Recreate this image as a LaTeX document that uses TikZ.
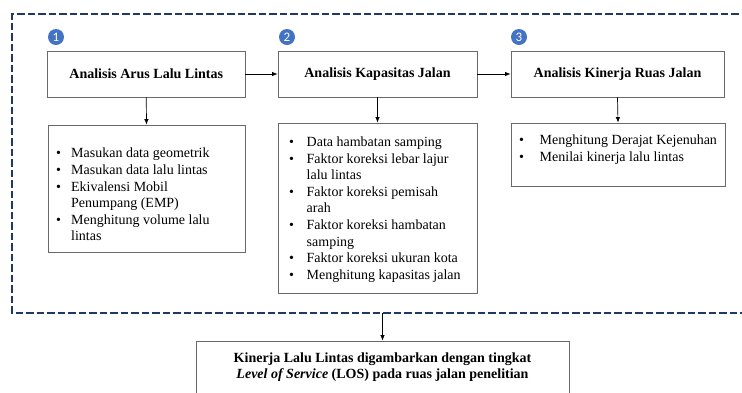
\documentclass[tikz,border=0pt]{standalone}
\usepackage{fontspec}
\setmainfont{Liberation Serif}
\newfontfamily\numfont{Carlito}
\usetikzlibrary{arrows.meta}
\definecolor{framec}{RGB}{31,56,100}
\definecolor{circc}{RGB}{68,114,196}
\definecolor{boxc}{RGB}{105,105,105}
\newcommand{\bu}[1][15pt]{\makebox[#1][l]{\textbullet}}
\newcommand{\ct}[1][15pt]{\hspace*{#1}}
\tikzset{
  box/.style={draw=boxc, line width=0.9pt, rectangle, inner sep=0pt},
  headtxt/.style={font=\fontsize{14pt}{16.5pt}\selectfont\bfseries},
  listtxt/.style={font=\fontsize{14pt}{16.6pt}\selectfont, align=left, inner sep=0pt, anchor=north west},
  numc/.style={circle, fill=circc, text=white, minimum size=16pt, inner sep=0pt, font=\numfont\fontsize{13pt}{13pt}\selectfont},
  arr/.style={-{Latex[length=5.5pt,width=4.5pt]}, line width=0.7pt, black},
  framel/.style={draw=framec, line width=2.4pt, dash pattern=on 7.5pt off 3pt}
}
\begin{document}
\begin{tikzpicture}[x=1pt,y=-1pt]
\useasboundingbox (0,0) rectangle (742,392);
\clip (0,0) rectangle (742,392);
% dashed frame
\draw[framel] (770,14) -| (12,313) -- (770,313);
\coordinate (fb) at (382.5,313);
% numbers
\node[numc] (n1) at (56,37) {1};
\node[numc] (n2) at (287,37) {2};
\node[numc] (n3) at (519,37) {3};
% top boxes
\node[box, minimum width=197.5pt, minimum height=46pt] (b1) at (146.25,74) {};
\node[headtxt] (h1) at (b1.center) {Analisis Arus Lalu Lintas};
\node[box, minimum width=199pt, minimum height=46pt] (b2) at (377.5,74) {};
\node[headtxt] (h2) at (b2.center) {Analisis Kapasitas Jalan};
\node[box, minimum width=213pt, minimum height=46pt] (b3) at (617.5,74) {};
\node[headtxt] (h3) at (b3.center) {Analisis Kinerja Ruas Jalan};
% lower boxes
\node[box, minimum width=197pt, minimum height=127pt] (l1) at (146.5,188.5) {};
\node[listtxt] (t1) at (56,148) {\bu Masukan data geometrik\\
\bu Masukan data lalu lintas\\
\bu Ekivalensi Mobil\\
\ct Penumpang (EMP)\\
\bu Menghitung volume lalu\\
\ct lintas};
\node[box, minimum width=199pt, minimum height=170pt] (l2) at (377.5,208) {};
\node[listtxt] (t2) at (289,136.5) {\bu[14pt] Data hambatan samping\\
\bu[14pt] Faktor koreksi lebar lajur\\
\ct[14pt] lalu lintas\\
\bu[14pt] Faktor koreksi pemisah\\
\ct[14pt] arah\\
\bu[14pt] Faktor koreksi hambatan\\
\ct[14pt] samping\\
\bu[14pt] Faktor koreksi ukuran kota\\
\bu[14pt] Menghitung kapasitas jalan};
\node[box, minimum width=214pt, minimum height=63pt] (l3) at (618,154.5) {};
\node[listtxt] (t3) at (519,135) {\bu[17pt] Menghitung Derajat Kejenuhan\\
\bu[17pt] Menilai kinerja lalu lintas};
% bottom box
\node[box, minimum width=373pt, minimum height=59pt] (bt) at (382.5,370.5) {};
\node[headtxt, align=center] (bt1) at (382.5,367) {Kinerja Lalu Lintas digambarkan dengan tingkat\\
\textit{Level of Service} (LOS) pada ruas jalan penelitian};
% connectors
\draw[arr] (b1.east) -- (b2.west);
\draw[arr] (b2.east) -- (b3.west);
\draw[arr] (b1.south) -- (l1.north);
\draw[arr] (b2.south) -- (l2.north);
\draw[arr] (b3.south) -- (l3.north);
\draw[arr] (fb) -- (bt.north);
\end{tikzpicture}
\end{document}
